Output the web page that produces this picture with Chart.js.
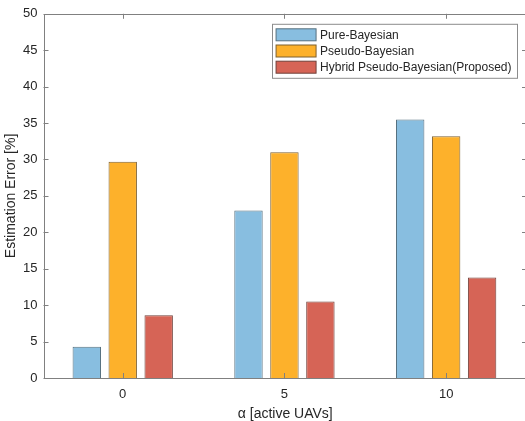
<!DOCTYPE html>
<html>
<head>
<meta charset="utf-8">
<script src="https://cdn.jsdelivr.net/npm/chart.js@4/dist/chart.umd.min.js"></script>
<style>
  html, body { margin: 0; padding: 0; background: #fff; overflow: hidden; }
  #wrap { width: 525px; height: 421px; overflow: hidden; }
</style>
</head>
<body>
<div id="wrap"><canvas id="errChart" width="532" height="421"></canvas></div>
<script>
// hodnoty
const alphaValues = [0, 5, 10];
const pureBayes = [4.3, 23.0, 35.5];
const pseudoBayes = [29.7, 31.0, 33.2];
const hybridBayes = [8.6, 10.5, 13.8];
const yTicks = [0, 5, 10, 15, 20, 25, 30, 35, 40, 45, 50];

const seriesNames = ['Pure-Bayesian', 'Pseudo-Bayesian', 'Hybrid Pseudo-Bayesian(Proposed)'];
const fillColors = ['#88bee0', '#fdb12b', '#d66456'];
const edgeColors = ['#56707f', '#7d6030', '#70403a'];

const FONT = "'Liberation Sans', Arial, Helvetica, sans-serif";
const AXIS_COLOR = '#808080';
const TEXT_COLOR = '#262626';

function toPoints(values) {
    return values.map((v, i) => ({ x: alphaValues[i], y: v }));
}

// rámeček, tick značky dovnitř a legenda vpravo nahoře
const matlabBox = {
    id: 'matlabBox',
    afterDatasetsDraw(chart) {
        const { ctx, chartArea: a, scales } = chart;
        ctx.save();
        ctx.strokeStyle = AXIS_COLOR;
        ctx.lineWidth = 1;
        ctx.beginPath();
        yTicks.forEach(t => {
            const y = Math.round(scales.y.getPixelForValue(t)) + 0.5;
            ctx.moveTo(a.left, y); ctx.lineTo(a.left + 5, y);
            ctx.moveTo(a.right, y); ctx.lineTo(a.right - 5, y);
        });
        alphaValues.forEach(t => {
            const x = Math.round(scales.x.getPixelForValue(t)) + 0.5;
            ctx.moveTo(x, a.bottom); ctx.lineTo(x, a.bottom - 5);
            ctx.moveTo(x, a.top); ctx.lineTo(x, a.top + 5);
        });
        ctx.stroke();
        ctx.strokeRect(Math.round(a.left) + 0.5, Math.round(a.top) + 0.5,
            Math.round(a.right - a.left), Math.round(a.bottom - a.top));
        ctx.restore();
    },
    afterDraw(chart) {
        const { ctx, chartArea: a } = chart;
        const sets = chart.data.datasets;
        ctx.save();
        ctx.font = '12px ' + FONT;
        const textW = Math.max(...sets.map(d => ctx.measureText(d.label).width));
        const boxW = 4.5 + 40 + 4 + textW + 5.5;
        const boxH = 54;
        const right = a.right - 10;
        const left = right - boxW;
        const top = a.top + 10;
        ctx.fillStyle = '#fff';
        ctx.fillRect(left, top, boxW, boxH);
        ctx.strokeStyle = '#8c8c8c';
        ctx.lineWidth = 1;
        ctx.strokeRect(Math.round(left) + 0.5, top + 0.5, Math.round(boxW), boxH);
        sets.forEach((d, i) => {
            const cy = top + 11 + i * 16.2;
            ctx.fillStyle = d.backgroundColor;
            ctx.fillRect(left + 4.5, cy - 6, 40, 12);
            ctx.strokeStyle = d.borderColor;
            ctx.strokeRect(left + 4.5, cy - 6, 40, 12);
            ctx.fillStyle = TEXT_COLOR;
            ctx.textBaseline = 'middle';
            ctx.fillText(d.label, left + 48.5, cy + 0.5);
        });
        ctx.restore();
    }
};

const ctx = document.getElementById('errChart').getContext('2d');
new Chart(ctx, {
    type: 'bar',
    data: {
        datasets: [pureBayes, pseudoBayes, hybridBayes].map((vals, i) => ({
            label: seriesNames[i],
            data: toPoints(vals),
            backgroundColor: fillColors[i],
            borderColor: edgeColors[i],
            borderWidth: 1,
            categoryPercentage: 0.667,
            barPercentage: 0.79
        }))
    },
    options: {
        responsive: false,
        devicePixelRatio: 1,
        animation: false,
        layout: { padding: { left: 0, top: 12, right: 5, bottom: 0 } },
        plugins: {
            legend: { display: false },
            tooltip: { enabled: false }
        },
        scales: {
            x: {
                type: 'linear',
                offset: false,
                min: -2.45,
                max: 12.5,
                afterBuildTicks: s => { s.ticks = alphaValues.map(v => ({ value: v })); },
                afterFit: s => { s.height = 43; },
                grid: { display: false, drawTicks: false, offset: false },
                border: { display: false },
                ticks: { color: TEXT_COLOR, font: { size: 13, family: FONT }, padding: 9 },
                title: {
                    display: true,
                    text: 'α [active UAVs]',
                    color: TEXT_COLOR,
                    font: { size: 14, family: FONT },
                    padding: { top: 0, bottom: -2 }
                }
            },
            y: {
                min: 0,
                max: 50,
                afterBuildTicks: s => { s.ticks = yTicks.map(v => ({ value: v })); },
                afterFit: s => { s.width = 43.5; },
                grid: { display: false, drawTicks: false },
                border: { display: false },
                ticks: { color: TEXT_COLOR, font: { size: 13, family: FONT }, padding: 6 },
                title: {
                    display: true,
                    text: 'Estimation Error [%]',
                    color: TEXT_COLOR,
                    font: { size: 14, family: FONT },
                    padding: { top: 3, bottom: 3 }
                }
            }
        }
    },
    plugins: [matlabBox]
});
</script>
</body>
</html>
